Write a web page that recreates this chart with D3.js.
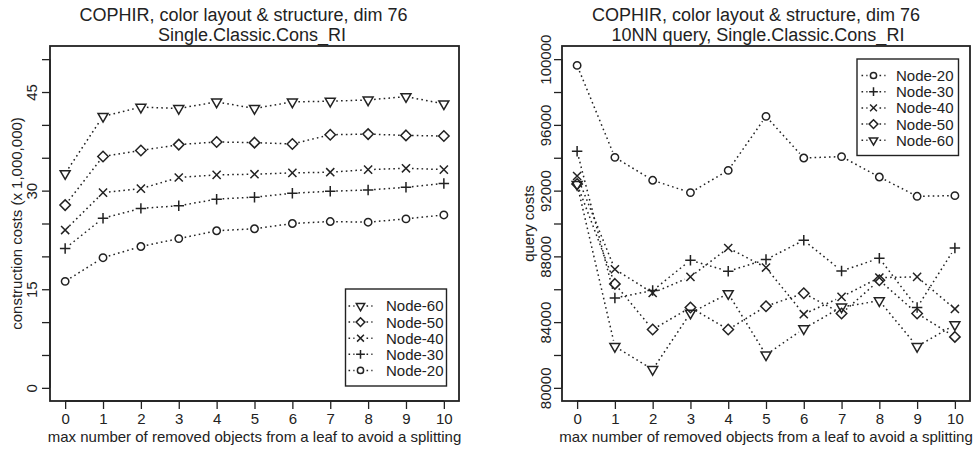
<!DOCTYPE html>
<html>
<head>
<meta charset="utf-8">
<script src="https://cdn.jsdelivr.net/npm/d3@7/dist/d3.min.js"></script>
<style>
  html, body { margin: 0; padding: 0; background: #fff; }
  svg { display: block; }
  text { font-family: "Liberation Sans", Arial, Helvetica, sans-serif; fill: #222; }
</style>
</head>
<body>
<svg id="chart" width="976" height="451"></svg>
<script>
// ---------------- data ----------------
const xValues = [0, 1, 2, 3, 4, 5, 6, 7, 8, 9, 10];
const xTickLabels = ["0","1","2","3","4","5","6","7","8","9","10"];

// construction costs (x 1,000,000)
const consNode20 = [16.2, 19.8, 21.5, 22.7, 23.9, 24.2, 25.0, 25.3, 25.2, 25.7, 26.3];
const consNode30 = [21.2, 25.8, 27.3, 27.7, 28.7, 29.0, 29.6, 29.9, 30.1, 30.5, 31.1];
const consNode40 = [24.0, 29.7, 30.3, 32.0, 32.4, 32.5, 32.7, 32.8, 33.2, 33.4, 33.2];
const consNode50 = [27.8, 35.2, 36.1, 37.0, 37.4, 37.3, 37.1, 38.5, 38.6, 38.4, 38.3];
const consNode60 = [32.6, 41.3, 42.7, 42.5, 43.5, 42.5, 43.5, 43.6, 43.8, 44.3, 43.2];

// query costs
const queryNode20 = [99620, 94025, 92630, 91880, 93235, 96520, 93985, 94070, 92830, 91655, 91695];
const queryNode30 = [94390, 85470, 85920, 87765, 87095, 87805, 88980, 87115, 87885, 84890, 88510];
const queryNode40 = [92890, 87215, 85775, 86750, 88510, 87320, 84480, 85535, 86710, 86750, 84800];
const queryNode50 = [92400, 86325, 83550, 84890, 83550, 84965, 85760, 84525, 86550, 84525, 83100];
const queryNode60 = [92380, 82520, 81120, 84550, 85740, 82010, 83600, 84920, 85300, 82520, 83840];

const seriesNames = ["Node-20", "Node-30", "Node-40", "Node-50", "Node-60"];
const seriesShapes = ["circle", "plus", "cross", "diamond", "triangleDown"];

const leftYTicks = [0, 5, 10, 15, 20, 25, 30, 35, 40, 45, 50];
const leftYLabels = [0, 15, 30, 45];
const rightYTicks = [80000, 82000, 84000, 86000, 88000, 90000, 92000, 94000, 96000, 98000, 100000];
const rightYLabels = [80000, 84000, 88000, 92000, 96000, 100000];

// ---------------- drawing ----------------
const svg = d3.select("#chart");
const INK = "#222";
const DASH = "1.6 3.2";

function symbolPath(shape, r) {
  const p = d3.path();
  if (shape === "circle") {
    p.moveTo(r, 0); p.arc(0, 0, r, 0, 2 * Math.PI);
  } else if (shape === "plus") {
    const a = r * Math.SQRT2;
    p.moveTo(-a, 0); p.lineTo(a, 0); p.moveTo(0, -a); p.lineTo(0, a);
  } else if (shape === "cross") {
    const a = r * 1.1;
    p.moveTo(-a, -a); p.lineTo(a, a); p.moveTo(-a, a); p.lineTo(a, -a);
  } else if (shape === "diamond") {
    const a = r * Math.SQRT2;
    p.moveTo(0, -a); p.lineTo(a, 0); p.lineTo(0, a); p.lineTo(-a, 0); p.closePath();
  } else if (shape === "triangleDown") {
    const R = r * 1.555, xc = R * Math.sqrt(3) / 2, yc = R / 2;
    p.moveTo(0, R); p.lineTo(xc, -yc); p.lineTo(-xc, -yc); p.closePath();
  }
  return p.toString();
}

function drawPanel(cfg) {
  const g = svg.append("g");
  const x = d3.scaleLinear().domain([-0.4, 10.4]).range([cfg.left, cfg.right]);
  const y = d3.scaleLinear().domain(cfg.yDomain).range([cfg.bottom, cfg.top]);

  // frame
  g.append("rect")
    .attr("x", cfg.left).attr("y", cfg.top)
    .attr("width", cfg.right - cfg.left).attr("height", cfg.bottom - cfg.top)
    .attr("fill", "none").attr("stroke", INK).attr("stroke-width", 1.8);

  // x axis
  const xAxis = d3.axisBottom(x).tickValues(xValues).tickSize(8).tickPadding(4)
    .tickFormat((d, i) => xTickLabels[i]);
  const gx = g.append("g").attr("transform", `translate(0,${cfg.bottom})`).call(xAxis);
  gx.select(".domain")
    .attr("d", `M${x(0)},0H${x(10)}`).attr("stroke", INK).attr("stroke-width", 1.3);
  gx.selectAll(".tick line").attr("stroke", INK).attr("stroke-width", 1.3);
  gx.selectAll(".tick text")
    .attr("y", 23).attr("dy", null)
    .style("font-size", "15px").style("font-family", "Liberation Sans, Arial, sans-serif").attr("fill", INK);

  // y axis
  const yAxis = d3.axisLeft(y).tickValues(cfg.yTicks).tickSize(8)
    .tickFormat(d => cfg.yLabels.includes(d) ? String(d) : "");
  const gy = g.append("g").attr("transform", `translate(${cfg.left},0)`).call(yAxis);
  gy.select(".domain")
    .attr("d", `M0,${y(cfg.yTicks[0])}V${y(cfg.yTicks[cfg.yTicks.length - 1])}`)
    .attr("stroke", INK).attr("stroke-width", 1.3);
  gy.selectAll(".tick line").attr("stroke", INK).attr("stroke-width", 1.3);
  gy.selectAll(".tick text")
    .attr("x", null).attr("dy", null)
    .attr("transform", `translate(${-cfg.yLabelGap},0) rotate(-90)`)
    .attr("text-anchor", "middle")
    .style("font-size", "15px").style("font-family", "Liberation Sans, Arial, sans-serif").attr("fill", INK);

  // axis titles
  g.append("text")
    .attr("x", (cfg.left + cfg.right) / 2).attr("y", 441.5)
    .attr("text-anchor", "middle").style("font-size", "15px")
    .text("max number of removed objects from a leaf to avoid a splitting");
  g.append("text")
    .attr("transform", `translate(${cfg.left - 28},${(cfg.top + cfg.bottom) / 2}) rotate(-90)`)
    .attr("text-anchor", "middle").style("font-size", "15px")
    .text(cfg.yTitle);

  // titles
  g.append("text").attr("x", cfg.title1X).attr("y", 21)
    .attr("text-anchor", "middle").style("font-size", "18px").text(cfg.title1);
  g.append("text").attr("x", cfg.title2X).attr("y", 40.5)
    .attr("text-anchor", "middle").style("font-size", "18px").text(cfg.title2);

  // series (type = "b": lines with gaps around points)
  const gap = 6;
  cfg.series.forEach((vals, si) => {
    const pts = vals.map((v, i) => [x(xValues[i]), y(v)]);
    const sg = g.append("g");
    for (let i = 0; i < pts.length - 1; i++) {
      const [x0, y0] = pts[i], [x1, y1] = pts[i + 1];
      const dx = x1 - x0, dy = y1 - y0, L = Math.hypot(dx, dy);
      if (L <= 2 * gap) continue;
      const ux = dx / L, uy = dy / L;
      sg.append("line")
        .attr("x1", x0 + ux * gap).attr("y1", y0 + uy * gap)
        .attr("x2", x1 - ux * gap).attr("y2", y1 - uy * gap)
        .attr("stroke", INK).attr("stroke-width", 1.5)
        .attr("stroke-dasharray", DASH);
    }
    sg.selectAll("path.pt").data(pts).join("path")
      .attr("class", "pt")
      .attr("transform", d => `translate(${d[0]},${d[1]})`)
      .attr("d", symbolPath(seriesShapes[si], 3.7))
      .attr("fill", "none").attr("stroke", INK).attr("stroke-width", 1.5);
  });

  // legend
  const lg = g.append("g");
  lg.append("rect")
    .attr("x", cfg.legend.x0).attr("y", cfg.legend.y0)
    .attr("width", cfg.legend.x1 - cfg.legend.x0).attr("height", cfg.legend.y1 - cfg.legend.y0)
    .attr("fill", "#fff").attr("stroke", INK).attr("stroke-width", 1.4);
  cfg.legend.order.forEach((si, k) => {
    const cy = cfg.legend.rowY0 + k * cfg.legend.rowStep;
    const sx = cfg.legend.symX;
    [[sx - 12, sx - 6], [sx + 6, sx + 12]].forEach(([a, b]) => {
      lg.append("line").attr("x1", a).attr("x2", b).attr("y1", cy).attr("y2", cy)
        .attr("stroke", INK).attr("stroke-width", 1.5).attr("stroke-dasharray", DASH);
    });
    lg.append("path").attr("transform", `translate(${sx},${cy})`)
      .attr("d", symbolPath(seriesShapes[si], 3.1))
      .attr("fill", "none").attr("stroke", INK).attr("stroke-width", 1.5);
    lg.append("text").attr("x", cfg.legend.textX).attr("y", cy).attr("dy", "0.36em")
      .style("font-size", "15px").text(seriesNames[si]);
  });
}

drawPanel({
  left: 50, right: 459, top: 46, bottom: 401,
  yDomain: [-2, 52], yTicks: leftYTicks, yLabels: leftYLabels, yLabelGap: 12.7,
  yTitle: "construction costs (x 1,000,000)",
  title1: "COPHIR, color layout & structure, dim 76", title1X: 243.5,
  title2: "Single.Classic.Cons_RI", title2X: 252,
  series: [consNode20, consNode30, consNode40, consNode50, consNode60],
  legend: { x0: 345.5, x1: 446.5, y0: 289, y1: 386, rowY0: 306, rowStep: 16.1,
            symX: 360.5, textX: 386, order: [4, 3, 2, 1, 0] }
});

drawPanel({
  left: 562, right: 970, top: 46, bottom: 401,
  yDomain: [79200, 100800], yTicks: rightYTicks, yLabels: rightYLabels, yLabelGap: 11,
  yTitle: "query costs",
  title1: "COPHIR, color layout & structure, dim 76", title1X: 756,
  title2: "10NN query, Single.Classic.Cons_RI", title2X: 758,
  series: [queryNode20, queryNode30, queryNode40, queryNode50, queryNode60],
  legend: { x0: 857, x1: 958.5, y0: 59, y1: 155.5, rowY0: 75.5, rowStep: 16.2,
            symX: 873.5, textX: 896, order: [0, 1, 2, 3, 4] }
});
</script>
</body>
</html>
